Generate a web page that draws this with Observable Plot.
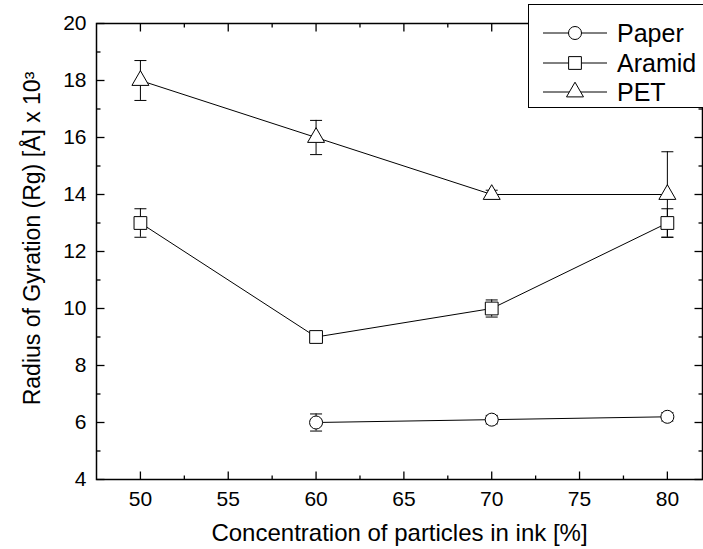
<!DOCTYPE html>
<html><head><meta charset="utf-8">
<script src="https://cdn.jsdelivr.net/npm/d3@7"></script>
<script src="https://cdn.jsdelivr.net/npm/@observablehq/plot@0.6"></script>
<style>
body{margin:0;background:#fff;overflow:hidden}
#wrap{position:relative;width:703px;height:549px;overflow:hidden;font-family:"Liberation Sans",Arial,sans-serif}
#legend{position:absolute;left:528px;top:4px;width:180px;height:104px;border:1.3px solid #000;background:#fff;box-sizing:border-box}
</style></head><body><div id="wrap"></div>
<script>
const seriesNames = ["Paper", "Aramid", "PET"];
const paperX = [60, 70, 80];
const paperY = [6.0, 6.1, 6.2];
const paperErr = [0.3, 0.15, 0.15];
const aramidX = [50, 60, 70, 80];
const aramidY = [13, 9, 10, 13];
const aramidErr = [0.5, 0.12, 0.3, 0.5];
const petX = [50, 60, 70, 80];
const petY = [18, 16, 14, 14];
const petErr = [0.7, 0.6, 0.15, 1.5];
const xTicks = [50, 55, 60, 65, 70, 75, 80];
const xMinor = [52.5, 57.5, 62.5, 67.5, 72.5, 77.5];
const yTicks = [4, 6, 8, 10, 12, 14, 16, 18, 20];
const yMinor = [5, 7, 9, 11, 13, 15, 17, 19];
const xTitle = "Concentration of particles in ink [%]";
const yTitle = "Radius of Gyration (Rg) [Å] x 10³";

const symbols = {Paper: "circle", Aramid: "square", PET: "triangle"};
const radii = {Paper: 6.5, Aramid: 7.2, PET: 6.3};
const raw = [[paperX, paperY, paperErr], [aramidX, aramidY, aramidErr], [petX, petY, petErr]];
const rows = [];
raw.forEach(([xs, ys, es], k) => xs.forEach((x, i) => rows.push({series: seriesNames[k], x, y: ys[i], err: es[i]})));

const mk = (fn) => ({draw(ctx, size) { fn(ctx, Math.sqrt(size / Math.PI)); }});
const cap = mk((c, w) => { c.moveTo(-w, 0); c.lineTo(w, 0); });
const tickUp = mk((c, L) => { c.moveTo(0, 0); c.lineTo(0, -L); });
const tickDown = mk((c, L) => { c.moveTo(0, 0); c.lineTo(0, L); });
const tickRight = mk((c, L) => { c.moveTo(0, 0); c.lineTo(L, 0); });
const tickLeft = mk((c, L) => { c.moveTo(0, 0); c.lineTo(-L, 0); });
const font = '"Liberation Sans", Arial, sans-serif';

const tickMarks = (vals, dir, anchor, len) => Plot.dot(vals, {
  [dir === "x" ? "x" : "y"]: d => d, frameAnchor: anchor,
  symbol: anchor === "bottom" ? tickUp : anchor === "top" ? tickDown : anchor === "left" ? tickRight : tickLeft,
  r: len, stroke: "black", strokeWidth: 1.3
});

const chart = Plot.plot({
  width: 703, height: 549,
  marginLeft: 96, marginRight: 1, marginTop: 23, marginBottom: 70,
  x: {domain: [47.5, 82], ticks: xTicks, tickSize: 0, tickPadding: 12, label: null},
  y: {domain: [4, 20], ticks: yTicks, tickSize: 0, tickPadding: 10, label: null},
  style: {fontFamily: font, fontSize: "21px", color: "black", background: "white"},
  marks: [
    Plot.line(rows, {x: "x", y: "y", z: "series", stroke: "black", strokeWidth: 1}),
    Plot.ruleX(rows, {x: "x", y1: d => d.y - d.err, y2: d => d.y + d.err, stroke: "black", strokeWidth: 1}),
    Plot.dot(rows, {x: "x", y: d => d.y - d.err, symbol: cap, r: 6, stroke: "black", strokeWidth: 1}),
    Plot.dot(rows, {x: "x", y: d => d.y + d.err, symbol: cap, r: 6, stroke: "black", strokeWidth: 1}),
    ...seriesNames.map(s => Plot.dot(rows.filter(d => d.series === s), {x: "x", y: "y", symbol: symbols[s], r: radii[s], fill: "white", stroke: "black", strokeWidth: 1})),
    tickMarks(xTicks, "x", "bottom", 8),
    tickMarks(xMinor, "x", "bottom", 4),
    tickMarks(xTicks, "x", "top", 8),
    tickMarks(xMinor, "x", "top", 4),
    tickMarks(yTicks, "y", "left", 8),
    tickMarks(yMinor, "y", "left", 4),
    tickMarks(yTicks, "y", "right", 8),
    tickMarks(yMinor, "y", "right", 4),
    Plot.frame({stroke: "black", strokeWidth: 1.5}),
    Plot.text([xTitle], {frameAnchor: "bottom", dy: 61, fontSize: 24, text: d => d}),
    Plot.text([yTitle], {frameAnchor: "left", textAnchor: "middle", rotate: -90, dx: -64, dy: -13, fontSize: 23, text: d => d})
  ]
});
const wrap = document.getElementById("wrap");
wrap.appendChild(chart);

// legend
const legend = document.createElement("div");
legend.id = "legend";
wrap.appendChild(legend);
const lsvg = d3.select(legend).append("svg").attr("width", 180).attr("height", 104);
const symMap = {circle: d3.symbolCircle, square: d3.symbolSquare, triangle: d3.symbolTriangle};
const rowY = [28, 58, 87];
seriesNames.forEach((s, i) => {
  const g = lsvg.append("g").attr("transform", `translate(0,${rowY[i]})`);
  g.append("line").attr("x1", 14).attr("x2", 78).attr("y1", 0).attr("y2", 0).attr("stroke", "black");
  g.append("path").attr("d", d3.symbol(symMap[symbols[s]], Math.PI * radii[s] * radii[s])())
    .attr("transform", "translate(46,0)").attr("fill", "white").attr("stroke", "black");
  g.append("text").attr("x", 88).attr("y", 0).attr("dy", "0.36em").attr("font-size", 25)
    .attr("font-family", font).text(s);
});
</script></body></html>
